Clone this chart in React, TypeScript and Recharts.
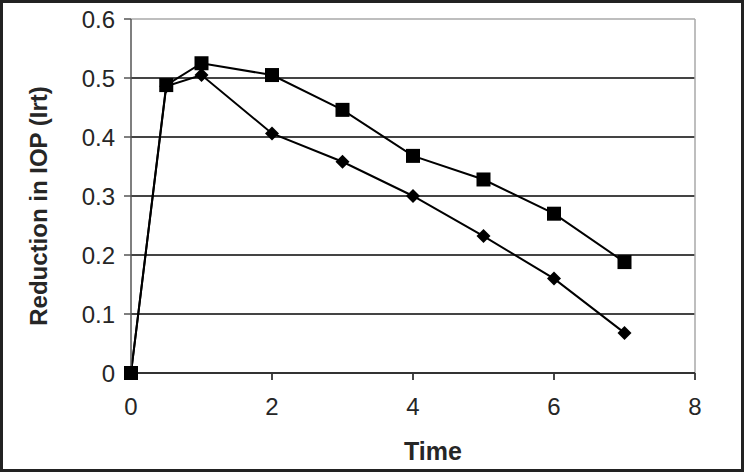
import React from 'react';
import {
  LineChart,
  Line,
  XAxis,
  YAxis,
  ReferenceLine,
  Label,
} from 'recharts';

const times = [0, 0.5, 1, 2, 3, 4, 5, 6, 7];
const squareSeries = [0, 0.488, 0.525, 0.505, 0.446, 0.368, 0.328, 0.27, 0.188];
const diamondSeries = [0, 0.486, 0.505, 0.406, 0.358, 0.3, 0.232, 0.16, 0.068];
const xTicks = [0, 2, 4, 6, 8];
const yTicks = [0, 0.1, 0.2, 0.3, 0.4, 0.5, 0.6];

const data = times.map((t, i) => ({
  t,
  sq: squareSeries[i],
  dm: diamondSeries[i],
}));

const FONT = 'Arial, "Liberation Sans", Helvetica, sans-serif';
const TEXT = '#262626';

function SquareDot(props: any) {
  const { cx, cy, index } = props;
  if (cx == null || cy == null) return null;
  return <rect key={`sq-${index}`} x={cx - 7} y={cy - 7} width={14} height={14} fill="#000" />;
}

function DiamondDot(props: any) {
  const { cx, cy, index } = props;
  if (cx == null || cy == null) return null;
  const r = 7;
  return (
    <polygon
      key={`dm-${index}`}
      points={`${cx},${cy - r} ${cx + r},${cy} ${cx},${cy + r} ${cx - r},${cy}`}
      fill="#000"
    />
  );
}

export default function App() {
  return (
    <div style={{ position: 'absolute', left: 0, top: 0, width: 744, height: 472, background: '#fff' }}>
      <div
        style={{
          position: 'absolute',
          inset: 0,
          border: '3px solid #222',
          boxSizing: 'border-box',
          pointerEvents: 'none',
          zIndex: 2,
        }}
      />
      <LineChart
        width={744}
        height={472}
        data={data}
        margin={{ top: 19, right: 49, left: 0, bottom: 0 }}
      >
        {yTicks
          .filter((v) => v > 0)
          .map((v) => (
            <ReferenceLine
              key={v}
              y={v}
              stroke={v === 0.6 ? '#a8a8a8' : '#444'}
              strokeWidth={v === 0.6 ? 1.5 : 1.8}
            />
          ))}
        <ReferenceLine x={8} stroke="#a8a8a8" strokeWidth={1.5} />
        <XAxis
          dataKey="t"
          type="number"
          domain={[0, 8]}
          ticks={xTicks}
          height={99}
          tickSize={7}
          tickMargin={18}
          stroke="#333"
          strokeWidth={1.8}
          tick={{ fontSize: 24, fill: TEXT, fontFamily: FONT }}
        >
          <Label
            value="Time"
            position="insideTop"
            offset={69}
            dx={20}
            style={{ fontSize: 25, fontWeight: 'bold', fill: TEXT, fontFamily: FONT }}
          />
        </XAxis>
        <YAxis
          type="number"
          domain={[0, 0.6]}
          ticks={yTicks}
          width={131}
          tickSize={7}
          tickMargin={9}
          stroke="#555"
          strokeWidth={1.5}
          tickFormatter={(v: number) => String(v)}
          tick={{ fontSize: 24, fill: TEXT, fontFamily: FONT }}
        >
          <Label
            value="Reduction in IOP (Irt)"
            angle={-90}
            position="insideLeft"
            offset={38}
            dy={10}
            style={{ fontSize: 24, fontWeight: 'bold', fill: TEXT, fontFamily: FONT, textAnchor: 'middle' }}
          />
        </YAxis>
        <Line
          dataKey="dm"
          stroke="#000"
          strokeWidth={2}
          dot={DiamondDot}
          activeDot={false}
          isAnimationActive={false}
        />
        <Line
          dataKey="sq"
          stroke="#000"
          strokeWidth={2}
          dot={SquareDot}
          activeDot={false}
          isAnimationActive={false}
        />
      </LineChart>
    </div>
  );
}
